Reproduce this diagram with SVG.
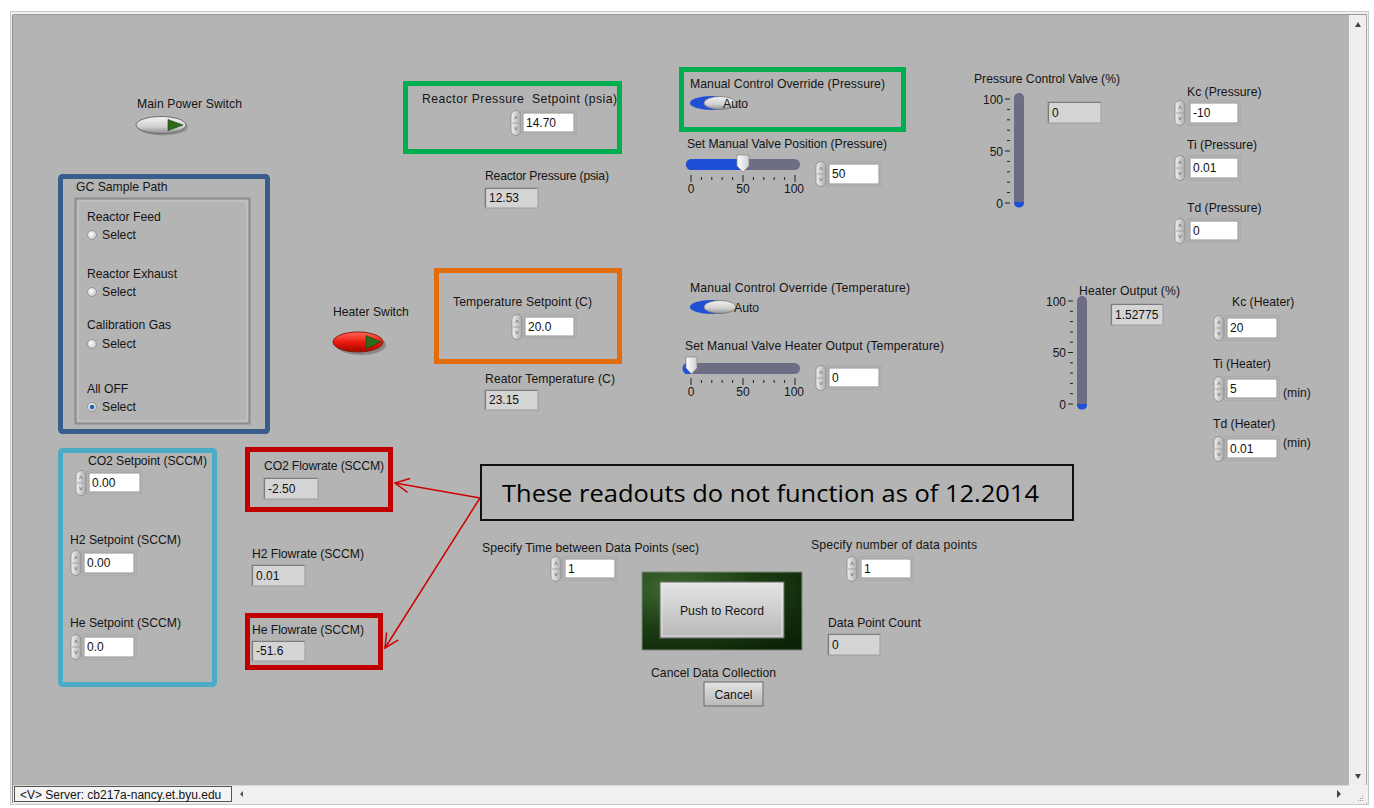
<svg xmlns="http://www.w3.org/2000/svg" width="1374" height="808" viewBox="0 0 1374 808">
<style>
.t{font-family:"Liberation Sans",Arial,sans-serif;font-size:12.2px;fill:#151515}
.n{font-family:"Liberation Sans",Arial,sans-serif;font-size:12px;fill:#111}
.sc{font-family:"Liberation Sans",Arial,sans-serif;font-size:12px;fill:#151515}
.fr{fill:#c3c3c3;stroke:#a2a2a2;stroke-width:1}
.wf{fill:#ffffff;stroke:#8e8e8e;stroke-width:1}
.gf{fill:#d4d4d4;stroke:#9c9c9c;stroke-width:1}
.sh{fill:none;stroke:#7c7c7c;stroke-width:1.2}
.box{fill:none;stroke-width:5}
.tick{stroke:#222;stroke-width:1}
.arr{stroke:#d00000;stroke-width:1.5;fill:none}
</style>
<defs>
<linearGradient id="gSpin" x1="0" y1="0" x2="1" y2="0">
<stop offset="0" stop-color="#f2f2f2"/><stop offset="1" stop-color="#a9a9a9"/>
</linearGradient>
<linearGradient id="gSw" x1="0" y1="0" x2="0" y2="1">
<stop offset="0" stop-color="#f4f4f4"/><stop offset="0.6" stop-color="#cfcfcf"/><stop offset="1" stop-color="#8e8e8e"/>
</linearGradient>
<linearGradient id="gRed" x1="0" y1="0" x2="0" y2="1">
<stop offset="0" stop-color="#ff6a5a"/><stop offset="0.5" stop-color="#ee1a10"/><stop offset="1" stop-color="#a00800"/>
</linearGradient>
<linearGradient id="gKnob" x1="0" y1="0" x2="1" y2="0">
<stop offset="0" stop-color="#ffffff"/><stop offset="1" stop-color="#cfcfcf"/>
</linearGradient>
<linearGradient id="gBtn" x1="0" y1="0" x2="0" y2="1">
<stop offset="0" stop-color="#e4e4e4"/><stop offset="1" stop-color="#b8b8b8"/>
</linearGradient>
<radialGradient id="gGreen" cx="0.2" cy="0.2" r="1">
<stop offset="0" stop-color="#3f6a33"/><stop offset="0.5" stop-color="#1d3f14"/><stop offset="1" stop-color="#0c2206"/>
</radialGradient>
<radialGradient id="gRadio" cx="0.4" cy="0.4" r="0.6">
<stop offset="0" stop-color="#ffffff"/><stop offset="1" stop-color="#c8c8c8"/>
</radialGradient>
<symbol id="spin" viewBox="0 0 12 26" width="12" height="26">
<rect x="1" y="0.5" width="10" height="25" rx="5" fill="url(#gSpin)" stroke="#8a8a8a" stroke-width="0.8"/>
<line x1="2" y1="13" x2="10" y2="13" stroke="#9a9a9a" stroke-width="0.8"/>
<path d="M4.5 9 L6 6 L7.5 9" fill="none" stroke="#777" stroke-width="0.8"/>
<path d="M4.5 17 L6 20 L7.5 17" fill="none" stroke="#777" stroke-width="0.8"/>
</symbol>
<marker id="oa" viewBox="0 0 16 16" refX="15" refY="8" markerWidth="16" markerHeight="16" markerUnits="userSpaceOnUse" orient="auto">
<path d="M1 1 L15 8 L1 15" fill="none" stroke="#d00000" stroke-width="1.5"/>
</marker>
</defs>

<!-- window -->
<g id="window">
<rect x="0" y="0" width="1374" height="808" fill="#ffffff"/>
<rect x="10.5" y="11.5" width="1358" height="793" fill="#f0f0f0" stroke="#c8c8c8"/>
<rect x="13" y="15" width="1336" height="770" fill="#b4b4b4"/>
<line x1="12.5" y1="15" x2="12.5" y2="803" stroke="#8a8a8a"/>
<line x1="13" y1="14.5" x2="1367" y2="14.5" stroke="#9a9a9a"/>
<rect x="1349" y="15" width="18" height="770" fill="#efefef"/>
<line x1="1366.5" y1="14" x2="1366.5" y2="804" stroke="#a8a8a8"/>
<path d="M1355 27 L1358 22 L1361 27 Z" fill="#444"/>
<path d="M1355 774 L1358 779 L1361 774 Z" fill="#444"/>
<rect x="13" y="785" width="1354" height="18" fill="#f0f0f0"/>
<line x1="13" y1="785.5" x2="1349" y2="785.5" stroke="#d8d8d8"/>
<path d="M1337 790 L1341 794 L1337 798 Z" fill="#444"/>
<path d="M243 791 L240 794 L243 797 Z" fill="#555"/>
<g fill="#999"><rect x="1362" y="796" width="1" height="1"/><rect x="1360" y="798" width="1" height="1"/><rect x="1362" y="798" width="1" height="1"/><rect x="1358" y="800" width="1" height="1"/><rect x="1360" y="800" width="1" height="1"/><rect x="1362" y="800" width="1" height="1"/></g>
<rect x="14.5" y="786.5" width="217" height="15" fill="#f4f4f4" stroke="#555"/>
<text class="sc" x="20" y="798.5">&lt;V&gt; Server: cb217a-nancy.et.byu.edu</text>
</g>

<!-- Main power switch -->
<g id="main-power">
<text class="t" x="137" y="108" textLength="105">Main Power Switch</text>
<ellipse cx="163" cy="127" rx="25" ry="8.5" fill="#7a7a7a" opacity="0.6"/>
<ellipse cx="161" cy="125" rx="25" ry="8.5" fill="url(#gSw)" stroke="#6c6c6c" stroke-width="1"/>
<path d="M168 119.5 L183 125 L168 130.5 Z" fill="#2f6a1a" stroke="#1c3f10" stroke-width="0.6"/>
</g>

<!-- GC sample path -->
<g id="gc-sample-path">
<rect class="box" x="60.5" y="176.5" width="207" height="255" rx="2" stroke="#385d8a"/>
<text class="t" x="76" y="191">GC Sample Path</text>
<rect x="75.5" y="198.5" width="174" height="225" fill="none" stroke="#8c8c8c" stroke-width="2"/>
<rect x="78" y="201" width="169" height="220" fill="none" stroke="#c9c9c9" stroke-width="1"/>
<text class="t" x="87" y="221">Reactor Feed</text>
<circle cx="92" cy="235" r="4.5" fill="url(#gRadio)" stroke="#8a8a8a" stroke-width="0.8"/>
<text class="t" x="102" y="239">Select</text>
<text class="t" x="87" y="278">Reactor Exhaust</text>
<circle cx="92" cy="292" r="4.5" fill="url(#gRadio)" stroke="#8a8a8a" stroke-width="0.8"/>
<text class="t" x="102" y="296">Select</text>
<text class="t" x="87" y="329">Calibration Gas</text>
<circle cx="92" cy="344" r="4.5" fill="url(#gRadio)" stroke="#8a8a8a" stroke-width="0.8"/>
<text class="t" x="102" y="348">Select</text>
<text class="t" x="87" y="393">All OFF</text>
<circle cx="92" cy="407" r="4.5" fill="url(#gRadio)" stroke="#8a8a8a" stroke-width="0.8"/>
<circle cx="92" cy="407" r="2.3" fill="#1f5fa8"/>
<text class="t" x="102" y="411">Select</text>
</g>

<!-- Heater switch -->
<g id="heater-switch">
<text class="t" x="333" y="316">Heater Switch</text>
<ellipse cx="361" cy="345" rx="25" ry="10" fill="#6a6a6a" opacity="0.6"/>
<ellipse cx="358" cy="342" rx="25" ry="10" fill="url(#gRed)" stroke="#8a1a10" stroke-width="1"/>
<path d="M366 335.5 L381 342 L366 348.5 Z" fill="#2f6a1a" stroke="#1c3f10" stroke-width="0.6"/>
</g>

<!-- Reactor pressure setpoint -->
<g id="pressure-setpoint">
<rect class="box" x="405.5" y="83.5" width="214" height="68" stroke="#00b050"/>
<text class="t" x="422" y="103" textLength="195">Reactor Pressure&#160; Setpoint (psia)</text>
<use href="#spin" x="510" y="110"/>
<rect class="fr" x="521" y="111" width="55" height="23"/>
<rect class="wf" x="523" y="113" width="51" height="19"/>
<text class="n" x="526" y="127">14.70</text>
</g>

<g id="reactor-pressure">
<text class="t" x="485" y="180" textLength="124">Reactor Pressure (psia)</text>
<rect class="gf" x="485" y="188" width="53" height="20"/>
<path class="sh" d="M485.5 207.5 V188.5 H537.5"/>
<text class="n" x="489" y="202">12.53</text>
</g>

<!-- Manual override pressure -->
<g id="override-pressure">
<rect class="box" x="681.5" y="69.5" width="222" height="60" stroke="#00b050"/>
<text class="t" x="690" y="88" textLength="195">Manual Control Override (Pressure)</text>
<ellipse cx="712" cy="103" rx="22" ry="7" fill="#1f4fd6"/>
<ellipse cx="720" cy="103" rx="16" ry="6.5" fill="url(#gSw)" stroke="#7a7a7a" stroke-width="0.8"/>
<text class="t" x="723" y="108">Auto</text>
</g>

<g id="valve-position">
<text class="t" x="687" y="148" textLength="200">Set Manual Valve Position (Pressure)</text>
<rect x="686" y="159" width="114" height="11" rx="5.5" fill="#6d6d84"/>
<path d="M691.5 159 H743 V170 H691.5 A5.5 5.5 0 0 1 691.5 159 Z" fill="#1f4fd6"/>
<path d="M737 155 H749 V166 L743 172 L737 166 Z" fill="url(#gKnob)" stroke="#8a8a8a" stroke-width="0.8"/>
<g class="tick">
<line x1="691" y1="175" x2="691" y2="182"/><line x1="701.4" y1="177" x2="701.4" y2="180"/><line x1="711.8" y1="177" x2="711.8" y2="180"/><line x1="722.2" y1="177" x2="722.2" y2="180"/><line x1="732.6" y1="177" x2="732.6" y2="180"/>
<line x1="743" y1="175" x2="743" y2="182"/><line x1="753.4" y1="177" x2="753.4" y2="180"/><line x1="763.8" y1="177" x2="763.8" y2="180"/><line x1="774.2" y1="177" x2="774.2" y2="180"/><line x1="784.6" y1="177" x2="784.6" y2="180"/><line x1="795" y1="175" x2="795" y2="182"/>
</g>
<text class="sc" x="691" y="193" text-anchor="middle">0</text>
<text class="sc" x="743" y="193" text-anchor="middle">50</text>
<text class="sc" x="794" y="193" text-anchor="middle">100</text>
<use href="#spin" x="815" y="161"/>
<rect class="fr" x="827" y="162" width="54" height="24"/>
<rect class="wf" x="829" y="164" width="50" height="20"/>
<text class="n" x="832" y="178">50</text>
</g>

<!-- Pressure control valve -->
<g id="pressure-valve">
<text class="t" x="974" y="83" textLength="146">Pressure Control Valve (%)</text>
<rect x="1014" y="93" width="10" height="114" rx="5" fill="#6d6d84"/>
<path d="M1014 202 H1024 V203 A5 4.5 0 0 1 1014 203 Z" fill="#1f4fd6"/>
<g class="tick">
<line x1="1005" y1="99" x2="1010" y2="99"/><line x1="1007" y1="109.4" x2="1010" y2="109.4"/><line x1="1007" y1="119.8" x2="1010" y2="119.8"/><line x1="1007" y1="130.2" x2="1010" y2="130.2"/><line x1="1007" y1="140.6" x2="1010" y2="140.6"/>
<line x1="1005" y1="151" x2="1010" y2="151"/><line x1="1007" y1="161.4" x2="1010" y2="161.4"/><line x1="1007" y1="171.8" x2="1010" y2="171.8"/><line x1="1007" y1="182.2" x2="1010" y2="182.2"/><line x1="1007" y1="192.6" x2="1010" y2="192.6"/><line x1="1005" y1="203" x2="1010" y2="203"/>
</g>
<text class="sc" x="1003" y="103.5" text-anchor="end">100</text>
<text class="sc" x="1003" y="155.5" text-anchor="end">50</text>
<text class="sc" x="1003" y="207.5" text-anchor="end">0</text>
<rect class="gf" x="1048" y="102" width="53" height="21"/>
<path class="sh" d="M1048.5 122.5 V102.5 H1100.5"/>
<text class="n" x="1052" y="117">0</text>
</g>

<!-- PID pressure -->
<g id="kc-pressure">
<text class="t" x="1187" y="96">Kc (Pressure)</text>
<use href="#spin" x="1174" y="100"/>
<rect class="fr" x="1188" y="101" width="52" height="24"/>
<rect class="wf" x="1190" y="103" width="48" height="20"/>
<text class="n" x="1193" y="117">-10</text>
</g>
<g id="ti-pressure">
<text class="t" x="1187" y="149">Ti (Pressure)</text>
<use href="#spin" x="1174" y="155"/>
<rect class="fr" x="1188" y="156" width="52" height="24"/>
<rect class="wf" x="1190" y="158" width="48" height="20"/>
<text class="n" x="1193" y="172">0.01</text>
</g>
<g id="td-pressure">
<text class="t" x="1187" y="212">Td (Pressure)</text>
<use href="#spin" x="1174" y="218"/>
<rect class="fr" x="1188" y="219" width="52" height="23"/>
<rect class="wf" x="1190" y="221" width="48" height="19"/>
<text class="n" x="1193" y="235">0</text>
</g>

<!-- Temperature setpoint -->
<g id="temp-setpoint">
<rect class="box" x="436.5" y="270.5" width="183" height="91" stroke="#e46c0a"/>
<text class="t" x="453" y="306" textLength="139">Temperature Setpoint (C)</text>
<use href="#spin" x="511" y="314"/>
<rect class="fr" x="523" y="315" width="53" height="23"/>
<rect class="wf" x="525" y="317" width="49" height="19"/>
<text class="n" x="528" y="331">20.0</text>
</g>
<g id="reactor-temp">
<text class="t" x="485" y="383" textLength="130">Reator Temperature (C)</text>
<rect class="gf" x="485" y="390" width="53" height="20"/>
<path class="sh" d="M485.5 409.5 V390.5 H537.5"/>
<text class="n" x="489" y="404">23.15</text>
</g>

<!-- Manual override temperature -->
<g id="override-temp">
<text class="t" x="690" y="292" textLength="220">Manual Control Override (Temperature)</text>
<ellipse cx="712" cy="307" rx="22" ry="7" fill="#1f4fd6"/>
<ellipse cx="720" cy="307" rx="16" ry="6.5" fill="url(#gSw)" stroke="#7a7a7a" stroke-width="0.8"/>
<text class="t" x="734" y="312">Auto</text>
</g>
<g id="heater-manual">
<text class="t" x="685" y="350" textLength="259">Set Manual Valve Heater Output (Temperature)</text>
<rect x="686" y="363" width="114" height="11" rx="5.5" fill="#6d6d84"/>
<path d="M686 374 A5.5 5.5 0 0 1 691 363 V374 Z" fill="#1f4fd6"/>
<path d="M686 357 H697 V368 L691.5 374 L686 368 Z" fill="url(#gKnob)" stroke="#8a8a8a" stroke-width="0.8"/>
<g class="tick">
<line x1="691" y1="378" x2="691" y2="385"/><line x1="701.4" y1="380" x2="701.4" y2="383"/><line x1="711.8" y1="380" x2="711.8" y2="383"/><line x1="722.2" y1="380" x2="722.2" y2="383"/><line x1="732.6" y1="380" x2="732.6" y2="383"/>
<line x1="743" y1="378" x2="743" y2="385"/><line x1="753.4" y1="380" x2="753.4" y2="383"/><line x1="763.8" y1="380" x2="763.8" y2="383"/><line x1="774.2" y1="380" x2="774.2" y2="383"/><line x1="784.6" y1="380" x2="784.6" y2="383"/><line x1="795" y1="378" x2="795" y2="385"/>
</g>
<text class="sc" x="691" y="396" text-anchor="middle">0</text>
<text class="sc" x="743" y="396" text-anchor="middle">50</text>
<text class="sc" x="794" y="396" text-anchor="middle">100</text>
<use href="#spin" x="815" y="365"/>
<rect class="fr" x="827" y="366" width="54" height="23"/>
<rect class="wf" x="829" y="368" width="50" height="19"/>
<text class="n" x="832" y="382">0</text>
</g>

<!-- Heater output -->
<g id="heater-output">
<rect x="1077" y="296" width="10" height="113" rx="5" fill="#6d6d84"/>
<path d="M1077 404 H1087 V405 A5 4.5 0 0 1 1077 405 Z" fill="#1f4fd6"/>
<g class="tick">
<line x1="1068" y1="301" x2="1073" y2="301"/><line x1="1070" y1="311.3" x2="1073" y2="311.3"/><line x1="1070" y1="321.6" x2="1073" y2="321.6"/><line x1="1070" y1="331.9" x2="1073" y2="331.9"/><line x1="1070" y1="342.2" x2="1073" y2="342.2"/>
<line x1="1068" y1="352.5" x2="1073" y2="352.5"/><line x1="1070" y1="362.8" x2="1073" y2="362.8"/><line x1="1070" y1="373.1" x2="1073" y2="373.1"/><line x1="1070" y1="383.4" x2="1073" y2="383.4"/><line x1="1070" y1="393.7" x2="1073" y2="393.7"/><line x1="1068" y1="404" x2="1073" y2="404"/>
</g>
<text class="sc" x="1066" y="305.5" text-anchor="end">100</text>
<text class="sc" x="1066" y="357" text-anchor="end">50</text>
<text class="sc" x="1066" y="408.5" text-anchor="end">0</text>
<text class="t" x="1079" y="295" textLength="101">Heater Output (%)</text>
<rect class="gf" x="1111" y="304" width="52" height="21"/>
<path class="sh" d="M1111.5 324.5 V304.5 H1162.5"/>
<text class="n" x="1115" y="319">1.52775</text>
</g>

<!-- PID heater -->
<g id="kc-heater">
<text class="t" x="1232" y="306">Kc (Heater)</text>
<use href="#spin" x="1213" y="315"/>
<rect class="fr" x="1225" y="316" width="54" height="24"/>
<rect class="wf" x="1227" y="318" width="50" height="20"/>
<text class="n" x="1230" y="332">20</text>
</g>
<g id="ti-heater">
<text class="t" x="1213" y="368">Ti (Heater)</text>
<use href="#spin" x="1213" y="376"/>
<rect class="fr" x="1225" y="377" width="54" height="23"/>
<rect class="wf" x="1227" y="379" width="50" height="19"/>
<text class="n" x="1230" y="393">5</text>
<text class="t" x="1283" y="397">(min)</text>
</g>
<g id="td-heater">
<text class="t" x="1213" y="428">Td (Heater)</text>
<use href="#spin" x="1213" y="436"/>
<rect class="fr" x="1225" y="437" width="54" height="23"/>
<rect class="wf" x="1227" y="439" width="50" height="19"/>
<text class="n" x="1230" y="453">0.01</text>
<text class="t" x="1283" y="447">(min)</text>
</g>

<!-- Gas setpoints -->
<g id="gas-setpoints">
<rect class="box" x="60.5" y="450.5" width="154" height="234" rx="2" stroke="#4bacc6"/>
<text class="t" x="88" y="465" textLength="119">CO2 Setpoint (SCCM)</text>
<use href="#spin" x="75" y="470"/>
<rect class="fr" x="87" y="471" width="55" height="23"/>
<rect class="wf" x="89" y="473" width="51" height="19"/>
<text class="n" x="92" y="487">0.00</text>
<text class="t" x="70" y="544" textLength="111">H2 Setpoint (SCCM)</text>
<use href="#spin" x="70" y="550"/>
<rect class="fr" x="82" y="551" width="54" height="24"/>
<rect class="wf" x="84" y="553" width="50" height="20"/>
<text class="n" x="87" y="567">0.00</text>
<text class="t" x="70" y="627" textLength="111">He Setpoint (SCCM)</text>
<use href="#spin" x="70" y="634"/>
<rect class="fr" x="82" y="635" width="54" height="24"/>
<rect class="wf" x="84" y="637" width="50" height="20"/>
<text class="n" x="87" y="651">0.0</text>
</g>

<!-- Flowrates -->
<g id="co2-flowrate">
<rect class="box" x="247.5" y="449.5" width="143" height="60" stroke="#c00000"/>
<text class="t" x="264" y="470" textLength="120">CO2 Flowrate (SCCM)</text>
<rect class="gf" x="264" y="478" width="54" height="21"/>
<path class="sh" d="M264.5 498.5 V478.5 H317.5"/>
<text class="n" x="268" y="493">-2.50</text>
</g>
<g id="h2-flowrate">
<text class="t" x="252" y="558" textLength="112">H2 Flowrate (SCCM)</text>
<rect class="gf" x="252" y="565" width="53" height="21"/>
<path class="sh" d="M252.5 585.5 V565.5 H304.5"/>
<text class="n" x="256" y="580">0.01</text>
</g>
<g id="he-flowrate">
<rect class="box" x="247.5" y="615.5" width="133" height="52" stroke="#c00000"/>
<text class="t" x="252" y="634" textLength="112">He Flowrate (SCCM)</text>
<rect class="gf" x="252" y="641" width="53" height="20"/>
<path class="sh" d="M252.5 660.5 V641.5 H304.5"/>
<text class="n" x="256" y="655">-51.6</text>
</g>

<!-- Callout -->
<g id="callout">
<rect x="481" y="465" width="592" height="55" fill="none" stroke="#111" stroke-width="2"/>
<text x="502" y="502" font-family="'Open Sans','Liberation Sans',sans-serif" font-size="24" fill="#000" textLength="537" lengthAdjust="spacingAndGlyphs">These readouts do not function as of 12.2014</text>
</g>

<g id="connectors">
<line class="arr" x1="480" y1="498" x2="395" y2="483" marker-end="url(#oa)"/>
<line class="arr" x1="480" y1="498" x2="385" y2="648" marker-end="url(#oa)"/>
</g>

<!-- Data collection -->
<g id="time-between">
<text class="t" x="482" y="552" textLength="217">Specify Time between Data Points (sec)</text>
<use href="#spin" x="550" y="556"/>
<rect class="fr" x="563" y="557" width="54" height="23"/>
<rect class="wf" x="565" y="559" width="50" height="19"/>
<text class="n" x="568" y="573">1</text>
</g>
<g id="num-points">
<text class="t" x="811" y="549" textLength="166">Specify number of data points</text>
<use href="#spin" x="846" y="556"/>
<rect class="fr" x="859" y="557" width="54" height="23"/>
<rect class="wf" x="861" y="559" width="50" height="19"/>
<text class="n" x="864" y="573">1</text>
</g>
<g id="push-record">
<rect x="642" y="572" width="160" height="78" fill="url(#gGreen)" stroke="#7a8a74" stroke-width="1"/>
<rect x="660" y="582" width="124" height="56" fill="url(#gBtn)" stroke="#6a6a6a" stroke-width="1"/>
<rect x="662" y="584" width="120" height="52" fill="none" stroke="#efefef" stroke-width="1" opacity="0.7"/>
<text class="t" x="722" y="615" text-anchor="middle">Push to Record</text>
</g>
<g id="data-count">
<text class="t" x="828" y="627">Data Point Count</text>
<rect class="gf" x="828" y="634" width="52" height="21"/>
<path class="sh" d="M828.5 654.5 V634.5 H879.5"/>
<text class="n" x="832" y="649">0</text>
</g>
<g id="cancel">
<text class="t" x="651" y="677" textLength="125">Cancel Data Collection</text>
<rect x="704" y="682" width="59" height="24" fill="url(#gBtn)" stroke="#6a6a6a" stroke-width="1"/>
<text class="t" x="733.5" y="699" text-anchor="middle">Cancel</text>
</g>
</svg>
